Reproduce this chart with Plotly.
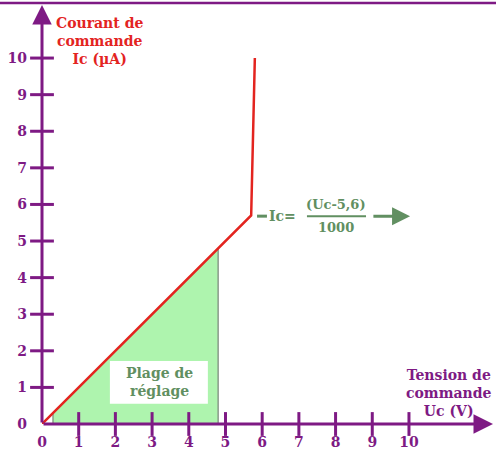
import plotly.graph_objects as go

# ---- data ----
curve_uc = [0, 5.7, 5.8]          # Tension de commande Uc (V)
curve_ic = [0, 5.7, 10]           # Courant de commande Ic (µA)
plage_uc = [0.3, 0.3, 4.8, 4.8]   # plage de réglage (filled area)
plage_ic = [0, 0.3, 4.8, 0]
tick_vals = [0, 1, 2, 3, 4, 5, 6, 7, 8, 9, 10]
tick_text = [str(v) for v in tick_vals]

PURPLE = "#7E1A84"
RED = "#E3241F"
GREEN_FILL = "#AEF4AE"
SAGE = "#618F61"
FONT = "DejaVu Serif"

X_MAX = 12.29
Y_MAX = 11.45

fig = go.Figure()

# green filled plage
fig.add_trace(go.Scatter(x=plage_uc + [plage_uc[0]], y=plage_ic + [plage_ic[0]],
                         mode="lines", fill="toself", fillcolor=GREEN_FILL,
                         line=dict(width=0), hoverinfo="skip", cliponaxis=False))
# gray vertical edges
fig.add_trace(go.Scatter(x=[plage_uc[0], plage_uc[1]], y=[plage_ic[0], plage_ic[1]],
                         mode="lines", line=dict(color="#8A9A8A", width=1.5), cliponaxis=False))
fig.add_trace(go.Scatter(x=[plage_uc[2], plage_uc[3]], y=[plage_ic[2], plage_ic[3]],
                         mode="lines", line=dict(color="#8A9A8A", width=1.5), cliponaxis=False))

# red characteristic
fig.add_trace(go.Scatter(x=curve_uc, y=curve_ic, mode="lines",
                         line=dict(color=RED, width=2.5), cliponaxis=False))

# tick marks crossing the axes
fig.add_trace(go.Scatter(x=tick_vals[1:], y=[0] * 10, mode="markers",
                         marker=dict(symbol="line-ns", size=17,
                                     line=dict(color=PURPLE, width=3)),
                         cliponaxis=False))
fig.add_trace(go.Scatter(x=[0] * 10, y=tick_vals[1:], mode="markers",
                         marker=dict(symbol="line-ew", size=17,
                                     line=dict(color=PURPLE, width=3)),
                         cliponaxis=False))

shapes = [
    # white box behind "Plage de réglage"
    dict(type="rect", xref="x", yref="y", x0=1.85, x1=4.52, y0=0.55, y1=1.72,
         fillcolor="white", line=dict(width=0), layer="above"),
    # top border
    dict(type="line", xref="paper", yref="paper", x0=-0.1, x1=1.1,
         y0=1.0048, y1=1.0048, line=dict(color=PURPLE, width=2.5)),
    # equation: leading dash and fraction bar
    dict(type="line", xref="x", yref="y", x0=5.86, x1=6.13, y0=5.68, y1=5.68,
         line=dict(color=SAGE, width=3)),
    dict(type="line", xref="x", yref="y", x0=7.22, x1=8.83, y0=5.68, y1=5.68,
         line=dict(color=SAGE, width=2)),
]

annotations = [
    # axes with arrows
    dict(x=X_MAX, y=0, ax=0, ay=0, xref="x", yref="y", axref="x", ayref="y",
         showarrow=True, arrowhead=2, arrowsize=1.3, arrowwidth=3,
         arrowcolor=PURPLE, text=""),
    dict(x=0, y=Y_MAX, ax=0, ay=0, xref="x", yref="y", axref="x", ayref="y",
         showarrow=True, arrowhead=2, arrowsize=1.3, arrowwidth=3,
         arrowcolor=PURPLE, text=""),
    # equation arrow
    dict(x=10.03, y=5.68, ax=8.99, ay=5.68, xref="x", yref="y", axref="x", ayref="y",
         showarrow=True, arrowhead=2, arrowsize=1.2, arrowwidth=3,
         arrowcolor=SAGE, text=""),
    # titles
    dict(x=1.58, y=10.47, xref="x", yref="y", showarrow=False,
         text="<b>Courant de<br>commande<br>Ic (µA)</b>",
         font=dict(family=FONT, size=14, color=RED), align="center"),
    dict(x=11.09, y=0.85, xref="x", yref="y", showarrow=False,
         text="<b>Tension de<br>commande<br>Uc (V)</b>",
         font=dict(family=FONT, size=14, color=PURPLE), align="center"),
    # plage text
    dict(x=3.2, y=1.15, xref="x", yref="y", showarrow=False,
         text="<b>Plage de<br>réglage</b>",
         font=dict(family=FONT, size=14, color=SAGE), align="center"),
    # equation text
    dict(x=6.55, y=5.68, xref="x", yref="y", showarrow=False,
         text="<b>Ic=</b>", font=dict(family=FONT, size=14, color=SAGE)),
    dict(x=8.02, y=5.99, xref="x", yref="y", showarrow=False,
         text="<b>(Uc-5,6)</b>", font=dict(family=FONT, size=13, color=SAGE)),
    dict(x=8.02, y=5.37, xref="x", yref="y", showarrow=False,
         text="<b>1000</b>", font=dict(family=FONT, size=13, color=SAGE)),
]

tickfont = dict(family=FONT, size=14, color=PURPLE)
fig.update_layout(
    width=496, height=453,
    margin=dict(l=42, r=3, t=5, b=29, autoexpand=False),
    paper_bgcolor="white", plot_bgcolor="white",
    showlegend=False,
    shapes=shapes, annotations=annotations,
    xaxis=dict(range=[0, X_MAX], showgrid=False, zeroline=False, showline=False,
               automargin=False,
               tickvals=tick_vals, ticktext=["<b>%s</b>" % t for t in tick_text],
               ticks="", tickfont=tickfont, ticklabelstandoff=8, fixedrange=True),
    yaxis=dict(range=[0, Y_MAX], showgrid=False, zeroline=False, showline=False,
               automargin=False,
               tickvals=tick_vals, ticktext=["<b>%s</b>" % t for t in tick_text],
               ticks="", tickfont=tickfont, ticklabelstandoff=14, fixedrange=True),
)

fig.write_html("out.html", config={"displayModeBar": False},
               post_script="document.body.style.margin='0';document.body.style.overflow='hidden';")
